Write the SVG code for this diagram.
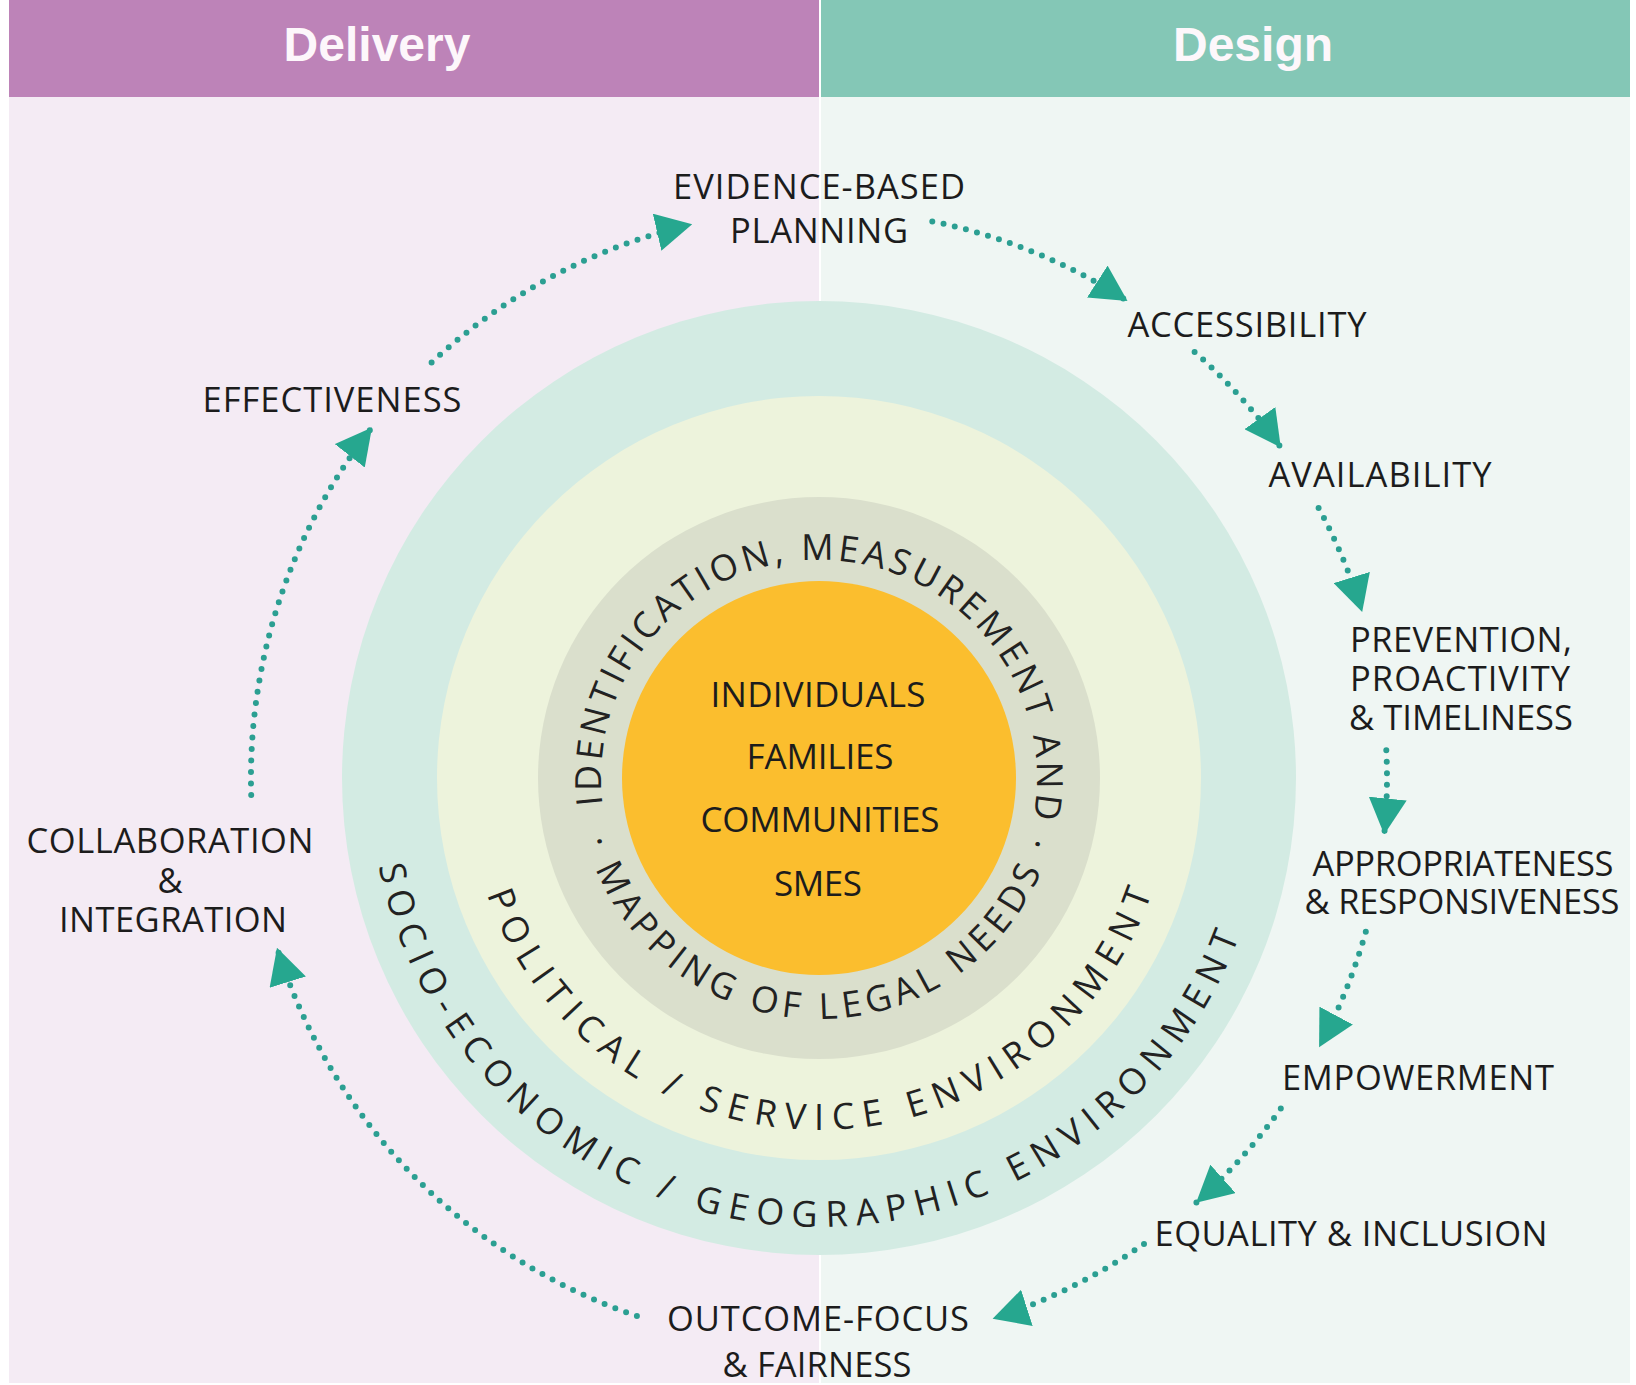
<svg xmlns="http://www.w3.org/2000/svg" xmlns:xlink="http://www.w3.org/1999/xlink" width="1636" height="1385" viewBox="0 0 1636 1385">
<style>
.hdr{font-family:"Liberation Sans",Arial,sans-serif;font-weight:bold;font-size:48px;fill:#fdf7fb;text-anchor:middle}
.lbl{font-family:"Open Sans","Noto Sans",sans-serif;font-size:34.5px;fill:#1c1c1c;text-anchor:middle}
.ctr{font-family:"Open Sans","Noto Sans",sans-serif;font-size:35px;fill:#1c1c1c;text-anchor:middle}
.ring{font-family:"Open Sans","Noto Sans",sans-serif;font-size:36px;fill:#222222}
.dots{fill:none;stroke:#2b9f92;stroke-width:6;stroke-linecap:round;stroke-dasharray:0 11.5;marker-end:url(#arr)}
</style>
<defs>
<marker id="arr" markerUnits="userSpaceOnUse" viewBox="0 0 36 38" refX="36" refY="19" markerWidth="36" markerHeight="38" orient="auto">
<path d="M0,0 L36,19 L0,38 z" fill="#26a78f"/>
</marker>
<path id="pTopGrey" d="M602.6 804.6 A218 218 0 1 1 1032.2 823.3"/>
<path id="pBotGrey" d="M586.2 840.4 A241 241 0 0 0 1051.8 840.4"/>
<path id="pYellow" d="M486.8 894.3 A352 352 0 0 0 1152.8 889.7"/>
<path id="pTeal" d="M378.7 866.0 A449 449 0 0 0 1240.4 933.0"/>
</defs>

<rect x="0" y="0" width="1636" height="1385" fill="#ffffff"/>

<g id="panel-delivery">
<rect x="9" y="0" width="810" height="97" fill="#bd83b8"/>
<rect x="9" y="97" width="810" height="1286" fill="#f4ebf4"/>
<text class="hdr" x="377" y="61">Delivery</text>
</g>
<g id="panel-design">
<rect x="821" y="0" width="809" height="97" fill="#84c7b6"/>
<rect x="821" y="97" width="809" height="1286" fill="#eff6f3"/>
<text class="hdr" x="1253" y="61">Design</text>
</g>

<g id="ring-socio-economic">
<circle cx="819" cy="778" r="477" fill="#d3ebe3"/>
<text class="ring"><textPath xlink:href="#pTeal" href="#pTeal" textLength="1160">SOCIO-ECONOMIC / GEOGRAPHIC ENVIRONMENT</textPath></text>
</g>
<g id="ring-political">
<circle cx="819" cy="778" r="382" fill="#edf3dc"/>
<text class="ring"><textPath xlink:href="#pYellow" href="#pYellow" textLength="870">POLITICAL / SERVICE ENVIRONMENT</textPath></text>
</g>
<g id="ring-identification">
<circle cx="819" cy="778" r="281" fill="#dadfcc"/>
<text class="ring"><textPath xlink:href="#pTopGrey" href="#pTopGrey" textLength="752">IDENTIFICATION, MEASUREMENT AND</textPath></text>
<text class="ring"><textPath xlink:href="#pBotGrey" href="#pBotGrey" textLength="628">· MAPPING OF LEGAL NEEDS ·</textPath></text>
</g>
<g id="core">
<circle cx="819" cy="778" r="197" fill="#fbbe2e"/>
<text class="ctr" x="818" y="707" textLength="215">INDIVIDUALS</text>
<text class="ctr" x="820" y="769" textLength="147">FAMILIES</text>
<text class="ctr" x="820" y="832" textLength="239">COMMUNITIES</text>
<text class="ctr" x="818" y="896" textLength="88">SMES</text>
</g>

<g id="connectors">
<path class="dots" d="M431.6 362.6 A568 568 0 0 1 692.2 224.3"/>
<path class="dots" d="M932.3 221.4 A568 568 0 0 1 1127.5 301.1"/>
<path class="dots" d="M1194.6 351.9 A568 568 0 0 1 1280.8 447.4"/>
<path class="dots" d="M1318.6 507.9 A568 568 0 0 1 1362.2 611.9"/>
<path class="dots" d="M1386.3 750.3 A568 568 0 0 1 1384.2 834.4"/>
<path class="dots" d="M1365.8 931.7 A568 568 0 0 1 1319.1 1047.3"/>
<path class="dots" d="M1280.8 1108.6 A568 568 0 0 1 1196.1 1202.8"/>
<path class="dots" d="M1144.0 1243.9 A568 568 0 0 1 992.6 1318.8"/>
<path class="dots" d="M636.9 1316.0 A568 568 0 0 1 277.0 947.8"/>
<path class="dots" d="M251.2 794.9 A568 568 0 0 1 372.0 427.5"/>
</g>

<g id="evidence-based-planning">
<text class="lbl" x="819" y="199" textLength="292">EVIDENCE-BASED</text>
<text class="lbl" x="819" y="243" textLength="178">PLANNING</text>
</g>
<g id="accessibility">
<text class="lbl" x="1247" y="337" textLength="239">ACCESSIBILITY</text>
</g>
<g id="availability">
<text class="lbl" x="1380" y="487" textLength="223">AVAILABILITY</text>
</g>
<g id="prevention">
<text class="lbl" x="1461" y="652" textLength="222">PREVENTION,</text>
<text class="lbl" x="1460" y="691" textLength="220">PROACTIVITY</text>
<text class="lbl" x="1461" y="730" textLength="224">&amp; TIMELINESS</text>
</g>
<g id="appropriateness">
<text class="lbl" x="1463" y="876" textLength="301">APPROPRIATENESS</text>
<text class="lbl" x="1462" y="914" textLength="315">&amp; RESPONSIVENESS</text>
</g>
<g id="empowerment">
<text class="lbl" x="1418" y="1090" textLength="272">EMPOWERMENT</text>
</g>
<g id="equality-inclusion">
<text class="lbl" x="1351" y="1246" textLength="393">EQUALITY &amp; INCLUSION</text>
</g>
<g id="outcome-focus">
<text class="lbl" x="818" y="1331" textLength="302">OUTCOME-FOCUS</text>
<text class="lbl" x="817" y="1377" textLength="189">&amp; FAIRNESS</text>
</g>
<g id="collaboration">
<text class="lbl" x="170" y="853" textLength="287">COLLABORATION</text>
<text class="lbl" x="170" y="893">&amp;</text>
<text class="lbl" x="173" y="932" textLength="228">INTEGRATION</text>
</g>
<g id="effectiveness">
<text class="lbl" x="332" y="412" textLength="259">EFFECTIVENESS</text>
</g>
</svg>
